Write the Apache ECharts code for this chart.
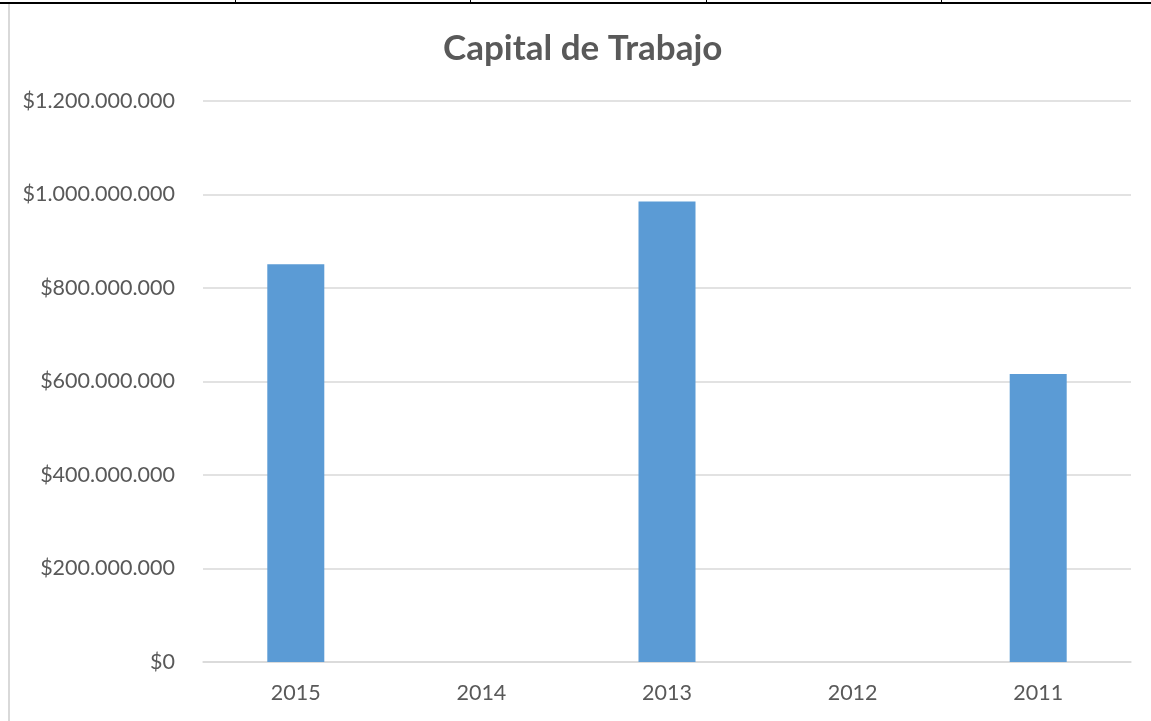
<!DOCTYPE html>
<html>
<head>
<meta charset="utf-8">
<script src="https://cdn.jsdelivr.net/npm/echarts@6/dist/echarts.min.js"></script>
<style>
html,body{margin:0;padding:0;background:#fff;}
#c{position:absolute;left:0;top:0;width:1151px;height:721px;}
.topline{position:absolute;left:0;top:2px;width:1151px;height:2px;background:#000;z-index:5;}
.tick{position:absolute;top:0;width:1px;height:3px;background:#000;z-index:5;}
.leftline{position:absolute;left:8px;top:4px;width:2px;height:717px;background:#d9d9d9;z-index:5;}
</style>
</head>
<body>
<div id="c"></div>
<div class="topline"></div>
<div class="tick" style="left:235px"></div>
<div class="tick" style="left:470px"></div>
<div class="tick" style="left:706px"></div>
<div class="tick" style="left:941px"></div>
<div class="leftline"></div>
<script>
const categories = ['2015', '2014', '2013', '2012', '2011'];
const values = [851000000, null, 985000000, null, 616000000];
const chartTitle = 'Capital de Trabajo';

function fmt(v) {
  return '$' + String(v).replace(/\B(?=(\d{3})+(?!\d))/g, '.');
}

const chart = echarts.init(document.getElementById('c'), null, {renderer: 'canvas'});
chart.setOption({
  animation: false,
  title: {
    text: chartTitle,
    left: 438,
    top: 26,
    textStyle: {fontFamily: 'Lato', fontSize: 35, fontWeight: 'bold', color: '#595959'}
  },
  grid: {left: 203, right: 20, top: 101, bottom: 59, containLabel: false},
  xAxis: {
    type: 'category',
    data: categories,
    axisLine: {lineStyle: {color: '#d9d9d9', width: 1.5}},
    axisTick: {show: false},
    axisLabel: {fontFamily: 'Lato', fontSize: 21.5, color: '#595959', margin: 20}
  },
  yAxis: {
    type: 'value',
    min: 0,
    max: 1200000000,
    interval: 200000000,
    axisLine: {show: false},
    axisTick: {show: false},
    splitLine: {lineStyle: {color: '#d9d9d9', width: 1.5}},
    axisLabel: {fontFamily: 'Lato', fontSize: 21.5, color: '#595959', margin: 28, formatter: fmt}
  },
  series: [{
    type: 'bar',
    data: values,
    barWidth: 57,
    itemStyle: {color: '#5b9bd5'}
  }]
});
</script>
</body>
</html>
